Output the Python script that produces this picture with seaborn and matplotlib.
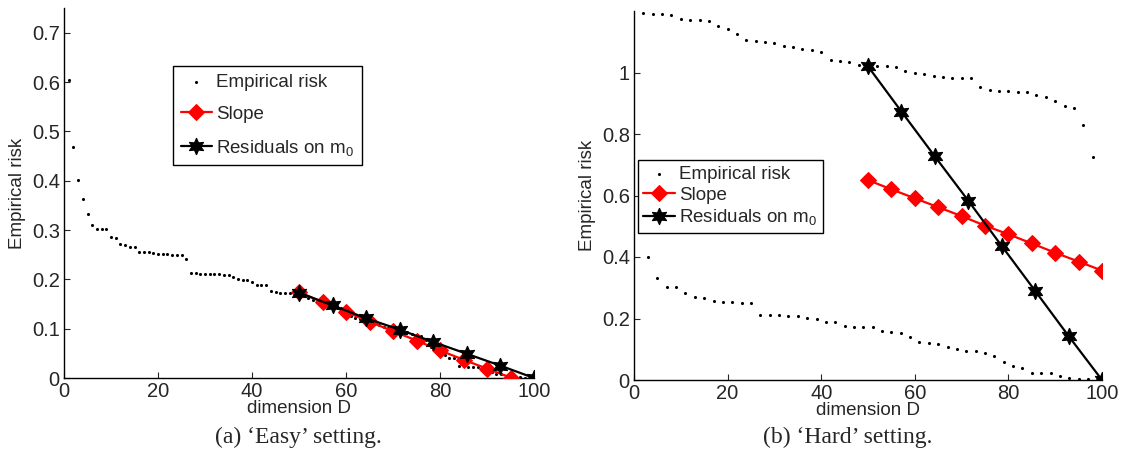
import numpy as np
import pandas as pd
import matplotlib
matplotlib.use('Agg')
import matplotlib.pyplot as plt
from matplotlib.ticker import FuncFormatter
import seaborn as sns

# ---------------- data
# 'Easy' setting: empirical risk for D = 1..100
easy_dim = list(range(1, 101))
easy_risk = [0.605, 0.468, 0.401, 0.363, 0.332, 0.310, 0.302, 0.302, 0.302, 0.286,
             0.283, 0.272, 0.270, 0.266, 0.266, 0.256, 0.256, 0.256, 0.253, 0.252,
             0.252, 0.251, 0.250, 0.250, 0.249, 0.241, 0.212, 0.212, 0.211, 0.211,
             0.211, 0.210, 0.210, 0.209, 0.208, 0.205, 0.200, 0.199, 0.199, 0.195,
             0.189, 0.189, 0.189, 0.176, 0.175, 0.173, 0.172, 0.172, 0.171, 0.171,
             0.171, 0.163, 0.159, 0.157, 0.155, 0.154, 0.153, 0.145, 0.141, 0.128,
             0.125, 0.122, 0.120, 0.118, 0.116, 0.110, 0.108, 0.104, 0.102, 0.097,
             0.095, 0.094, 0.093, 0.090, 0.088, 0.085, 0.078, 0.062, 0.059, 0.050,
             0.046, 0.041, 0.040, 0.025, 0.024, 0.023, 0.022, 0.022, 0.022, 0.016,
             0.013, 0.009, 0.008, 0.005, 0.003, 0.002, 0.002, 0.001, 0.000, 0.000]
easy_slope_dim = [50, 55, 60, 65, 70, 75, 80, 85, 90, 95]
easy_slope = [0.174, 0.154, 0.134, 0.114, 0.095, 0.076, 0.056, 0.037, 0.019, 0.001]
resid_dim = [50, 57.14, 64.29, 71.43, 78.57, 85.71, 92.86, 100]
easy_resid = [0.173, 0.147, 0.121, 0.098, 0.073, 0.049, 0.025, 0.0]

# 'Hard' setting: two interleaved branches of empirical risk
hard_dim_up = list(range(2, 100, 2))
hard_risk_up = [1.193, 1.190, 1.190, 1.186, 1.174, 1.171, 1.171, 1.168, 1.152, 1.141,
                1.126, 1.107, 1.104, 1.099, 1.096, 1.087, 1.082, 1.076, 1.072, 1.066,
                1.040, 1.036, 1.033, 1.026, 1.022, 1.022, 1.020, 1.019, 1.004, 0.997,
                0.994, 0.990, 0.984, 0.982, 0.981, 0.981, 0.952, 0.943, 0.941, 0.940,
                0.938, 0.936, 0.928, 0.921, 0.906, 0.890, 0.884, 0.829, 0.726]
hard_dim_low = list(range(3, 101, 2))
hard_risk_low = [0.401, 0.331, 0.302, 0.302, 0.284, 0.270, 0.266, 0.256, 0.254, 0.253,
                 0.250, 0.250, 0.211, 0.210, 0.210, 0.209, 0.208, 0.201, 0.199, 0.188,
                 0.188, 0.175, 0.171, 0.171, 0.171, 0.159, 0.155, 0.153, 0.141, 0.125,
                 0.120, 0.116, 0.108, 0.102, 0.095, 0.093, 0.088, 0.078, 0.059, 0.046,
                 0.040, 0.024, 0.022, 0.022, 0.013, 0.008, 0.003, 0.002, 0.000]
hard_slope_dim = [50, 55, 60, 65, 70, 75, 80, 85, 90, 95, 100]
hard_slope = [0.650, 0.620, 0.591, 0.562, 0.533, 0.502, 0.474, 0.444, 0.414, 0.385, 0.356]
hard_resid = [1.020, 0.873, 0.727, 0.583, 0.436, 0.290, 0.143, 0.0]

sns.set_style('ticks')
plt.rcParams['font.family'] = ['Liberation Sans', 'DejaVu Sans']
plt.rcParams['mathtext.fontset'] = 'custom'
plt.rcParams['mathtext.rm'] = 'Liberation Sans'
plt.rcParams['mathtext.it'] = 'Liberation Sans'
plt.rcParams['xtick.direction'] = 'in'
plt.rcParams['ytick.direction'] = 'in'

FS = 13.5
hexagram = (6, 1, 0)

fig = plt.figure(figsize=(11.26, 4.63), dpi=100)
ax1 = fig.add_axes([64 / 1126, 1 - 378 / 463, 470 / 1126, 370 / 463])
ax2 = fig.add_axes([634 / 1126, 1 - 380 / 463, 468 / 1126, 369 / 463])


def draw(ax, risk_sets, sdim, sval, rval):
    first = True
    for d, r in risk_sets:
        sns.scatterplot(x=d, y=r, ax=ax, color='black', s=5, linewidth=0, marker='o',
                        label='Empirical risk' if first else None, zorder=2)
        first = False
    sns.lineplot(x=sdim, y=sval, ax=ax, color='red', lw=1.6, marker='D', markersize=8.5,
                 markeredgecolor='red', label='Slope', zorder=3)
    sns.lineplot(x=resid_dim, y=rval, ax=ax, color='black', lw=1.6, marker=hexagram,
                 markersize=12, markeredgecolor='black', label='Residuals on m$_0$', zorder=4)
    ax.set_xlim(0, 100)
    ax.set_xticks([0, 20, 40, 60, 80, 100])
    ax.yaxis.set_major_formatter(FuncFormatter(lambda v, p: '%g' % round(v, 2)))
    ax.tick_params(labelsize=14.5, length=4, width=0.8, pad=3)
    ax.set_xlabel('dimension D', fontsize=FS, labelpad=-1)
    ax.set_ylabel('Empirical risk', fontsize=FS, labelpad=4)
    sns.despine(ax=ax)
    for s in ['left', 'bottom']:
        ax.spines[s].set_linewidth(1.0)
        ax.spines[s].set_color('black')


draw(ax1, [(easy_dim, easy_risk)], easy_slope_dim, easy_slope, easy_resid)
ax1.set_ylim(0, 0.75)
ax1.set_yticks([0, 0.1, 0.2, 0.3, 0.4, 0.5, 0.6, 0.7])
leg1 = ax1.legend(loc='upper left', bbox_to_anchor=(0.232, 0.843), fontsize=FS,
                  frameon=True, fancybox=False, edgecolor='black', framealpha=1,
                  labelspacing=0.8, handlelength=1.7, handletextpad=0.2,
                  borderpad=0.4, borderaxespad=0)
leg1.get_frame().set_linewidth(1.0)

draw(ax2, [(hard_dim_up, hard_risk_up), (hard_dim_low, hard_risk_low)],
     hard_slope_dim, hard_slope, hard_resid)
ax2.set_ylim(0, 1.2)
ax2.set_yticks([0, 0.2, 0.4, 0.6, 0.8, 1])
leg2 = ax2.legend(loc='upper left', bbox_to_anchor=(0.008, 0.596), fontsize=FS,
                  frameon=True, fancybox=False, edgecolor='black', framealpha=1,
                  labelspacing=0.2, handlelength=1.7, handletextpad=0.2,
                  borderpad=0.3, borderaxespad=0)
leg2.get_frame().set_linewidth(1.0)

fig.text(298 / 1126, 1 - 437 / 463, '(a) \u2018Easy\u2019 setting.', ha='center', va='center',
         fontsize=17, family=['Liberation Serif', 'DejaVu Serif'])
fig.text(848 / 1126, 1 - 437 / 463, '(b) \u2018Hard\u2019 setting.', ha='center', va='center',
         fontsize=17, family=['Liberation Serif', 'DejaVu Serif'])

fig.savefig('out.png', dpi=100)
